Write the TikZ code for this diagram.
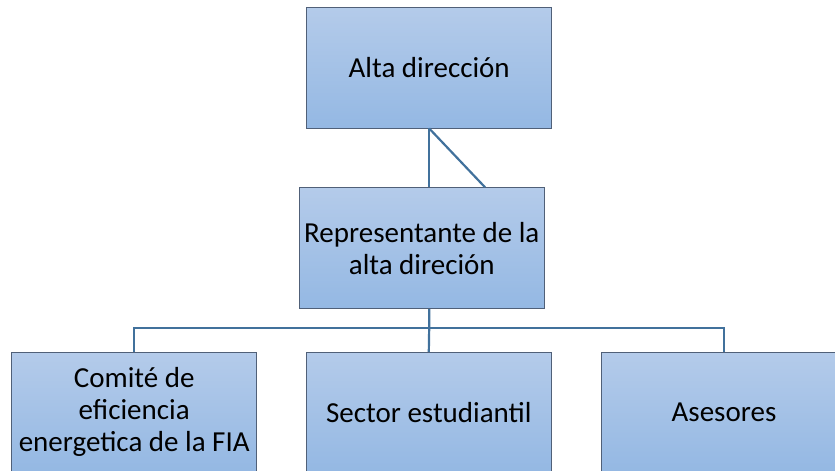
\documentclass[tikz,border=0pt]{standalone}
\usepackage{fontspec}
\setmainfont{Carlito}
\usetikzlibrary{calc}
\definecolor{boxtop}{RGB}{180,203,234}
\definecolor{boxbot}{RGB}{148,184,227}
\definecolor{boxedge}{RGB}{80,96,120}
\definecolor{conn}{RGB}{65,113,156}
\tikzset{
  orgbox/.style={draw=boxedge, line width=0.9pt, top color=boxtop, bottom color=boxbot,
    minimum width=245pt, minimum height=121pt, inner sep=0pt, align=center,
    font=\fontsize{29}{32}\selectfont},
  link/.style={draw=conn, line width=2.2pt}
}
\begin{document}
\begin{tikzpicture}[x=1pt,y=-1pt]
\useasboundingbox (0,0) rectangle (835,471);
\clip (0,0) rectangle (835,471);
\node[orgbox] (top) at (429.2,67.5) {Alta dirección};
\node[orgbox] (mid) at (421.8,248.2) {Representante de la\\alta direción};
\node[orgbox, minimum height=120pt] (b1) at (134.2,412.3) {Comité de\\eficiencia\\energetica de la FIA};
\node[orgbox, minimum height=120pt] (b2) at (428.8,412.3) {Sector estudiantil};
\node[orgbox, minimum height=120pt] (b3) at (724,412.3) {Asesores};
\coordinate (diag) at ($(mid.north)+(63.2,0)$);
\coordinate (hub) at ($(top.south |- mid.south)+(0,18.5)$);
\draw[link] (top.south) -- (top.south |- mid.north);
\draw[link] (top.south) -- (diag);
\draw[link] (top.south |- mid.south) -- (hub) -- (b2.north);
\draw[link] (b1.north) |- (hub) -| (b3.north);
\end{tikzpicture}
\end{document}
